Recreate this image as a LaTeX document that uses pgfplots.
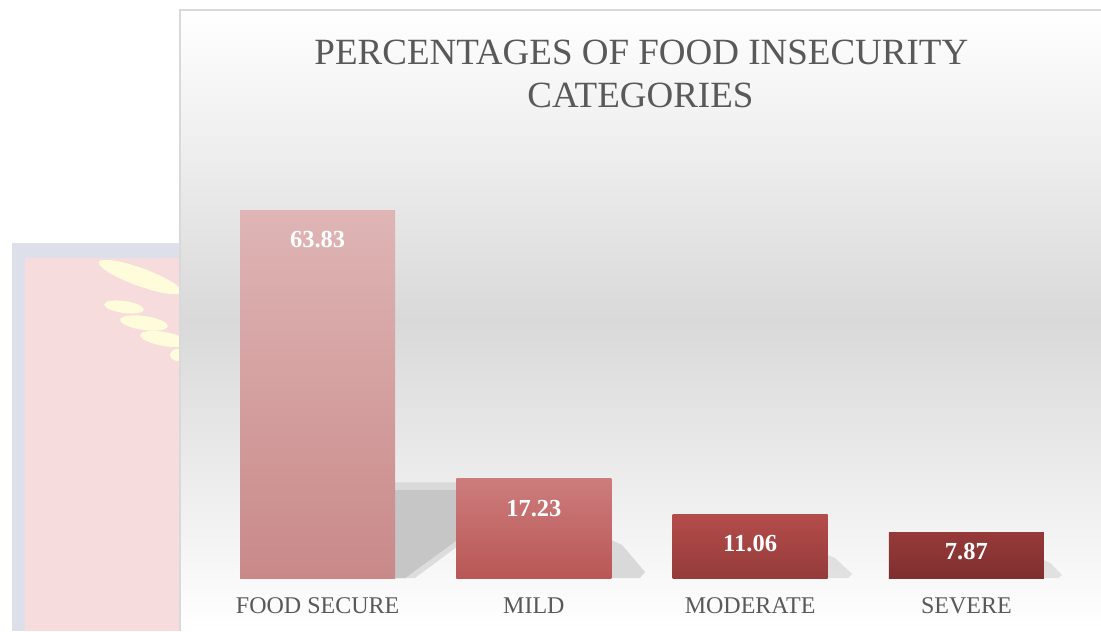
\documentclass[border=0pt]{standalone}
\usepackage{fontspec}
\setmainfont{Liberation Serif}
\usepackage{pgfplots}
\pgfplotsset{compat=1.18}
\definecolor{titlegray}{HTML}{595959}
\definecolor{midgray}{HTML}{D9D9D9}
\definecolor{wmborder}{HTML}{DDE0EB}
\definecolor{wmpink}{HTML}{F7DCDD}
\definecolor{wmyellow}{HTML}{FEFCDA}
\definecolor{shadowgray}{HTML}{C6C6C6}
\definecolor{shadowsoft}{HTML}{D2D2D2}
\begin{document}
\begin{tikzpicture}[x=1pt,y=1pt]
% bounding box: 1101 x 631 px at 0.5pt per px
\path[use as bounding box] (0,0) rectangle (550.5,315.5);
\fill[white] (0,0) rectangle (550.5,315.5);
% watermark at the left
\fill[wmborder] (6,0) rectangle (92,194);
\fill[wmpink] (12.5,0) rectangle (92,186.5);
\fill[wmyellow, rotate around={-20:(70,177)}] (70,177) ellipse (22 and 4.5);
\fill[wmyellow, rotate around={-8:(62,162)}] (62,162) ellipse (10 and 3);
\fill[wmyellow, rotate around={-8:(72,154)}] (72,154) ellipse (12 and 3.5);
\fill[wmyellow, rotate around={-10:(82,146)}] (82,146) ellipse (12 and 3.5);
\fill[wmyellow] (89,138) ellipse (4 and 3);
% chart area background
\shade[top color=white, bottom color=white, middle color=midgray] (90,0) rectangle (550.5,310.5);
\draw[midgray, line width=1pt] (90,0) -- (90,310.5) -- (551,310.5);
% title
\node[anchor=base, text=titlegray, inner sep=0pt, font=\fontsize{18.5}{18.5}\selectfont] at (320.7,283) {PERCENTAGES OF FOOD INSECURITY};
\node[anchor=base, text=titlegray, inner sep=0pt, font=\fontsize{18.5}{18.5}\selectfont] at (320.2,261.5) {CATEGORIES};
\begin{axis}[
  at={(104.75pt,26.5pt)}, anchor=south west,
  scale only axis, width=432.5pt, height=219.07pt,
  xmin=-0.5, xmax=3.5, ymin=0, ymax=76,
  axis line style={draw=none},
  major tick length=0pt,
  ytick=\empty,
  xtick={0,1,2,3},
  xticklabels={FOOD SECURE, MILD, MODERATE, SEVERE},
  xticklabel style={anchor=north, inner sep=0pt, yshift=-9.5pt, text=titlegray, font=\fontsize{12}{12}\selectfont},
  ybar, bar width=77.5pt, bar shift=0pt,
  /pgf/number format/.cd, fixed, fixed zerofill, precision=2, assume math mode=true,
  /pgfplots/.cd,
  nodes near coords,
  nodes near coords style={anchor=north, inner sep=0pt, yshift=-10.5pt, text=white, font=\bfseries\fontsize{12.25}{12.25}\selectfont},
  clip=false,
]
% soft shadows behind the bars
\fill[shadowsoft, opacity=0.7] (axis cs:0.358,16.6) -- (axis cs:0.665,16.6) -- (axis cs:0.665,6.0) -- (axis cs:0.45,0) -- (axis cs:0.358,0) -- cycle;
\fill[shadowgray] (axis cs:0.358,15.26) -- (axis cs:0.645,15.26) -- (axis cs:0.645,6.59) -- (axis cs:0.405,0) -- (axis cs:0.358,0) -- cycle;
\fill[shadowsoft, opacity=0.8] (axis cs:1.357,6.59) -- (axis cs:1.408,5.72) -- (axis cs:1.514,1.04) -- (axis cs:1.491,0) -- (axis cs:1.357,0) -- cycle;
\fill[shadowsoft, opacity=0.6] (axis cs:2.361,3.99) -- (axis cs:2.393,3.47) -- (axis cs:2.472,0.69) -- (axis cs:2.453,0) -- (axis cs:2.361,0) -- cycle;
\fill[shadowsoft, opacity=0.6] (axis cs:3.359,3.12) -- (axis cs:3.387,2.6) -- (axis cs:3.443,0.52) -- (axis cs:3.424,0) -- (axis cs:3.359,0) -- cycle;
\addplot[draw=none, top color={rgb,255:red,223;green,181;blue,181}, bottom color={rgb,255:red,201;green,137;blue,137}] coordinates {(0,63.83)};
\addplot[draw=none, top color={rgb,255:red,205;green,124;blue,124}, bottom color={rgb,255:red,185;green,87;blue,86}] coordinates {(1,17.23)};
\addplot[draw=none, top color={rgb,255:red,180;green,76;blue,74}, bottom color={rgb,255:red,148;green,60;blue,59}] coordinates {(2,11.06)};
\addplot[draw=none, top color={rgb,255:red,150;green,58;blue,57}, bottom color={rgb,255:red,127;green,47;blue,47},
  nodes near coords style={yshift=5.5pt}] coordinates {(3,7.87)};
\end{axis}
\end{tikzpicture}
\end{document}
